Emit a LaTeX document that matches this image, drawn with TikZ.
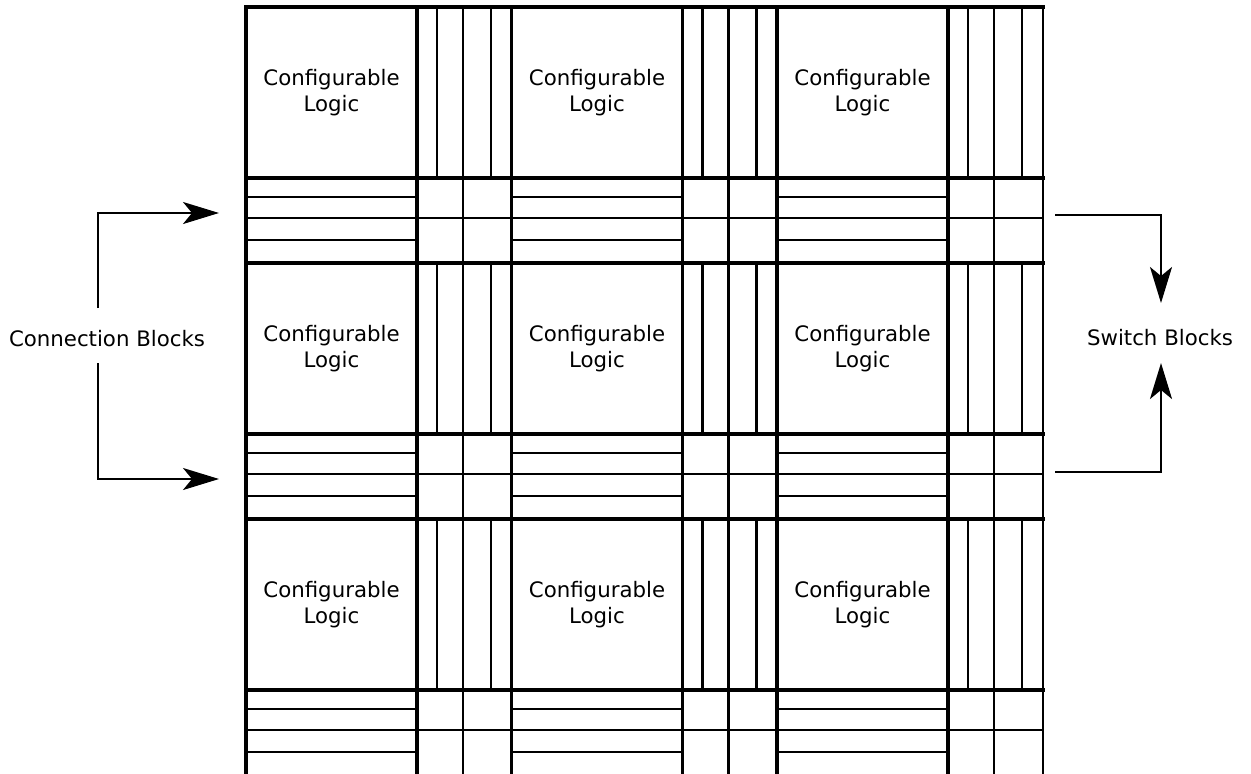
\documentclass[tikz,border=0pt]{standalone}
\usepackage{fontspec}
\setmainfont{DejaVu Sans}
\usetikzlibrary{arrows.meta}
\tikzset{
  gridline/.style={line width=3.8pt, line cap=rect},
  edgeline/.style={line width=2.8pt},
  track/.style={line width=2.2pt},
  clbbox/.style={draw, line width=3.8pt, minimum width=171pt, minimum height=171pt,
    inner sep=0pt, align=center, font=\fontsize{21.3}{25.5}\selectfont},
  lbl/.style={inner sep=0pt, font=\fontsize{21.3}{25.5}\selectfont},
  arr/.style={line width=2.2pt, -{Stealth[length=36pt, width=22pt, inset=9pt]}},
}
\begin{document}
\begin{tikzpicture}[x=1pt, y=-1pt]
\useasboundingbox (0,0) rectangle (1251,774);
\begin{scope}
\clip (0,0) rectangle (1251,774);
% channel tracks
\foreach \i in {0,1,2} {
  \foreach \j in {0,1,2} {
    \pgfmathsetmacro{\X}{246+265.5*\i}
    \pgfmathsetmacro{\Y}{7+256*\j}
    % vertical channel tracks
    \draw[track] (\X+191,\Y) -- (\X+191,\Y+171);
    \draw[track] (\X+245,\Y) -- (\X+245,\Y+171);
    \draw[track] (\X+217,\Y) -- (\X+217,\Y+256);
    % horizontal channel tracks
    \draw[track] (\X,\Y+190) -- (\X+171,\Y+190);
    \draw[track] (\X,\Y+233) -- (\X+171,\Y+233);
    \draw[track] (\X,\Y+211) -- (\X+265.5,\Y+211);
  }
}
% grid lines (block boundaries)
\foreach \i in {0,1,2} {
  \pgfmathsetmacro{\X}{246+265.5*\i}
  \draw[gridline] (\X,7) -- (\X,790);
  \draw[gridline] (\X+171,7) -- (\X+171,790);
}
\draw[edgeline] (1043,7) -- (1043,790);
\foreach \j in {0,1,2} {
  \pgfmathsetmacro{\Y}{7+256*\j}
  \draw[gridline] (246,\Y) -- (1043,\Y);
  \draw[gridline] (246,\Y+171) -- (1043,\Y+171);
}
% configurable logic blocks
\foreach \i in {0,1,2} {
  \foreach \j in {0,1,2} {
    \pgfmathsetmacro{\X}{246+265.5*\i}
    \pgfmathsetmacro{\Y}{7+256*\j}
    \node[clbbox] (clb\i\j) at (\X+85.5,\Y+85.5) {Configurable\\Logic};
  }
}
\end{scope}
% labels
\node[lbl] (cb) at (107,339) {Connection Blocks};
\node[lbl] (sb) at (1160,338) {Switch Blocks};
% connector end points
\coordinate (cbup) at (98,308);
\coordinate (cbdown) at (98,363);
\coordinate (cbtop) at (219,213);
\coordinate (cbbot) at (219,479);
\coordinate (sbfromtop) at (1055,215);
\coordinate (sbfrombot) at (1055,472);
\coordinate (sbtop) at (1161,303);
\coordinate (sbbot) at (1161,363);
\draw[arr] (cbup) |- (cbtop);
\draw[arr] (cbdown) |- (cbbot);
\draw[arr] (sbfromtop) -| (sbtop);
\draw[arr] (sbfrombot) -| (sbbot);
\end{tikzpicture}
\end{document}
